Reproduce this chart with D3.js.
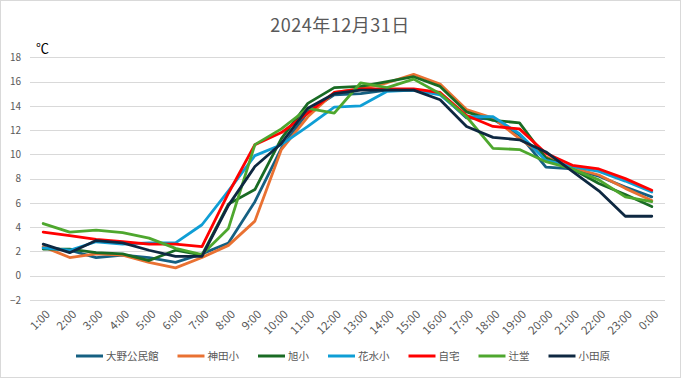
<!DOCTYPE html>
<html>
<head>
<meta charset="utf-8">
<script src="https://cdn.jsdelivr.net/npm/d3@7"></script>
<style>
  body { margin: 0; background: #fff; }
  text { font-family: "Noto Sans CJK JP", "Noto Sans", sans-serif; }
</style>
</head>
<body>
<div id="chart"></div>
<script>
var hours = ["1:00", "2:00", "3:00", "4:00", "5:00", "6:00", "7:00", "8:00", "9:00", "10:00", "11:00", "12:00",
    "13:00", "14:00", "15:00", "16:00", "17:00", "18:00", "19:00", "20:00", "21:00", "22:00", "23:00", "0:00"];
var yTicks = [-2, 0, 2, 4, 6, 8, 10, 12, 14, 16, 18];

var stationNames = ["大野公民館", "神田小", "旭小", "花水小", "自宅", "辻堂", "小田原"];
var stationColors = ["#156082", "#e97132", "#196b24", "#0f9ed5", "#ff0000", "#4ea72e", "#0e2841"];

var oono = [2.3, 2.1, 1.5, 1.7, 1.5, 1.1, 1.8, 2.7, 6.1, 10.5, 13.5, 14.9, 15.0, 15.3, 15.3, 15.0, 13.0, 12.9, 11.6, 8.95, 8.8, 8.2, 7.3, 6.5];
var kanda = [2.4, 1.5, 1.8, 1.7, 1.1, 0.65, 1.5, 2.5, 4.5, 10.4, 13.1, 15.1, 15.4, 15.9, 16.6, 15.8, 13.7, 13.0, 11.3, 9.8, 8.9, 8.3, 7.2, 6.2];
var asahi = [2.2, 2.2, 1.9, 1.8, 1.25, 2.1, 1.7, 5.9, 7.1, 11.3, 14.2, 15.5, 15.6, 16.0, 16.4, 15.6, 13.5, 12.8, 12.6, 9.7, 8.8, 7.6, 6.7, 5.7];
var hanamizu = [2.3, 2.1, 2.8, 2.6, 2.7, 2.7, 4.2, 7.0, 9.9, 10.8, 12.3, 13.9, 14.0, 15.2, 15.3, 14.9, 13.1, 13.1, 11.7, 9.5, 9.0, 8.6, 7.8, 6.9];
var jitaku = [3.6, 3.3, 3.0, 2.8, 2.6, 2.6, 2.4, 6.8, 10.8, 11.8, 13.4, 15.1, 15.4, 15.4, 15.4, 15.1, 13.2, 12.3, 12.1, 10.1, 9.1, 8.8, 8.0, 7.05];
var tsujido = [4.3, 3.6, 3.75, 3.55, 3.1, 2.25, 1.75, 3.9, 10.8, 12.1, 13.8, 13.4, 15.9, 15.5, 16.2, 15.0, 13.1, 10.5, 10.4, 9.4, 8.8, 7.9, 6.5, 6.1];
var odawara = [2.6, 1.9, 2.9, 2.7, 2.1, 1.6, 1.6, 5.8, 9.0, 10.9, 13.8, 15.0, 15.3, 15.3, 15.3, 14.5, 12.3, 11.4, 11.2, 10.2, 8.6, 7.0, 4.9, 4.9];

var stationValues = [oono, kanda, asahi, hanamizu, jitaku, tsujido, odawara];

var w = 681, h = 378;
var plotLeft = 30, plotRight = 665, plotTop = 57.3, plotBottom = 300;

var svg = d3.select("#chart").append("svg")
    .attr("width", w)
    .attr("height", h);

svg.append("rect")
    .attr("x", 0.5).attr("y", 0.5)
    .attr("width", w - 1).attr("height", h - 1)
    .attr("fill", "#fff")
    .attr("stroke", "#d9d9d9");

var x = d3.scalePoint()
    .domain(hours)
    .range([plotLeft, plotRight])
    .padding(0.5);

var y = d3.scaleLinear()
    .domain([-2, 18])
    .range([plotBottom, plotTop]);

// grid
svg.append("g")
    .selectAll("line")
    .data(yTicks)
    .enter().append("line")
    .attr("x1", plotLeft).attr("x2", plotRight)
    .attr("y1", function(d) { return Math.round(y(d)) + 0.5; })
    .attr("y2", function(d) { return Math.round(y(d)) + 0.5; })
    .attr("stroke", "#d9d9d9")
    .attr("stroke-width", 1);

var yAxis = d3.axisLeft(y).tickValues(yTicks).tickSize(0).tickPadding(0);
svg.append("g")
    .attr("transform", "translate(21,0)")
    .call(yAxis)
    .call(function(g) { g.select(".domain").remove(); })
    .selectAll("text")
    .attr("fill", "#595959")
    .style("font-size", "10px");

var xAxis = d3.axisBottom(x).tickSize(0).tickPadding(0);
svg.append("g")
    .call(xAxis)
    .call(function(g) { g.select(".domain").remove(); g.selectAll("line").remove(); })
    .selectAll("text")
    .attr("fill", "#595959")
    .style("font-size", "11.5px")
    .attr("text-anchor", "end")
    .attr("dy", null)
    .attr("y", 0)
    .attr("x", 0)
    .attr("transform", "translate(7,315) rotate(-45)");

var line = d3.line()
    .x(function(d, i) { return x(hours[i]); })
    .y(function(d) { return y(d); });

svg.append("g")
    .selectAll("path")
    .data(stationValues)
    .enter().append("path")
    .attr("d", line)
    .attr("fill", "none")
    .attr("stroke", function(d, i) { return stationColors[i]; })
    .attr("stroke-width", 2.8)
    .attr("stroke-linejoin", "round")
    .attr("stroke-linecap", "round");

svg.append("text")
    .attr("x", 340)
    .attr("y", 32)
    .attr("text-anchor", "middle")
    .attr("fill", "#595959")
    .style("font-size", "18px")
    .style("letter-spacing", "0.5px")
    .text("2024年12月31日");

svg.append("text")
    .attr("x", 36)
    .attr("y", 53)
    .attr("fill", "#000")
    .style("font-size", "13px")
    .text("℃");

// legend
var legend = svg.append("g");
var items = legend.selectAll("g")
    .data(stationNames)
    .enter().append("g");
items.append("line")
    .attr("x1", 0).attr("x2", 27)
    .attr("y1", 0).attr("y2", 0)
    .attr("stroke", function(d, i) { return stationColors[i]; })
    .attr("stroke-width", 3);
items.append("text")
    .attr("x", 30)
    .attr("dy", "0.35em")
    .attr("fill", "#595959")
    .style("font-size", "10.5px")
    .text(function(d) { return d; });

var pos = 0, offsets = [];
items.each(function(d, i) {
    offsets.push(pos);
    pos += 30 + this.querySelector("text").getComputedTextLength() + 19;
});
var total = pos - 19;
var start = 343 - total / 2;
items.attr("transform", function(d, i) { return "translate(" + (start + offsets[i]) + ",356)"; });
</script>
</body>
</html>
